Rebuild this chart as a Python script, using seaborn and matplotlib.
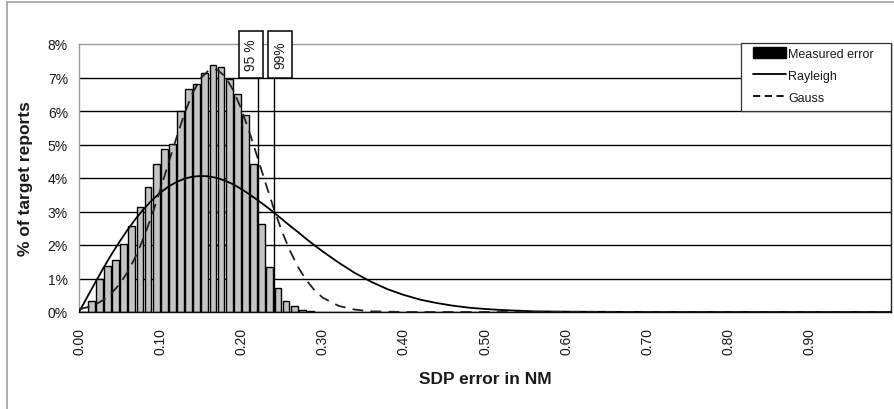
import numpy as np
import pandas as pd
import seaborn as sns
import matplotlib.pyplot as plt
from matplotlib.patches import Patch, Rectangle
from matplotlib.lines import Line2D

# Measured SDP error histogram: bins of 0.01 NM starting at bin_left, share in %
bin_left = [0.00, 0.01, 0.02, 0.03, 0.04, 0.05, 0.06, 0.07, 0.08, 0.09,
            0.10, 0.11, 0.12, 0.13, 0.14, 0.15, 0.16, 0.17, 0.18, 0.19,
            0.20, 0.21, 0.22, 0.23, 0.24, 0.25, 0.26, 0.27, 0.28]
measured = [0.00, 0.34, 1.00, 1.36, 1.55, 2.03, 2.58, 3.13, 3.72, 4.42,
            4.87, 5.01, 6.01, 6.66, 6.80, 7.12, 7.37, 7.30, 6.97, 6.50,
            5.88, 4.42, 2.63, 1.35, 0.73, 0.33, 0.18, 0.06, 0.03]

# Fitted distributions (% of target reports per 0.01 NM)
curve_x = [0.00, 0.01, 0.02, 0.03, 0.04, 0.05, 0.06, 0.07, 0.08, 0.09,
           0.10, 0.11, 0.12, 0.13, 0.14, 0.15, 0.16, 0.17, 0.18, 0.19,
           0.20, 0.21, 0.22, 0.23, 0.24, 0.25, 0.26, 0.27, 0.28, 0.29,
           0.30, 0.32, 0.34, 0.36, 0.38, 0.40, 0.42, 0.44, 0.46, 0.48,
           0.50, 0.52, 0.54, 0.56, 0.58, 0.60, 0.70, 0.80, 0.90, 1.00]
rayleigh = [0.00, 0.44, 0.88, 1.31, 1.72, 2.10, 2.46, 2.79, 3.08, 3.34,
            3.56, 3.74, 3.88, 3.98, 4.04, 4.06, 4.05, 4.00, 3.92, 3.81,
            3.67, 3.51, 3.34, 3.16, 2.97, 2.77, 2.57, 2.38, 2.18, 1.99,
            1.81, 1.47, 1.16, 0.90, 0.68, 0.51, 0.37, 0.27, 0.19, 0.13,
            0.09, 0.06, 0.04, 0.02, 0.015, 0.01, 0.00, 0.00, 0.00, 0.00]
gauss = [0.08, 0.14, 0.22, 0.36, 0.56, 0.83, 1.20, 1.66, 2.24, 2.90,
         3.64, 4.43, 5.20, 5.93, 6.54, 6.98, 7.22, 7.24, 7.03, 6.62,
         6.05, 5.36, 4.60, 3.83, 3.08, 2.40, 1.82, 1.33, 0.95, 0.65,
         0.43, 0.18, 0.07, 0.02, 0.01, 0.00, 0.00, 0.00, 0.00, 0.00,
         0.00, 0.00, 0.00, 0.00, 0.00, 0.00, 0.00, 0.00, 0.00, 0.00]

# Percentile markers
pct_labels = ["95 %", "99%"]
pct_values = [0.22, 0.24]

# Axis ticks
x_ticks = [0.00, 0.05, 0.10, 0.15, 0.20, 0.25, 0.30, 0.35, 0.40, 0.45,
           0.50, 0.55, 0.60, 0.65, 0.70, 0.75, 0.80, 0.85, 0.90, 0.95]
x_ticklabels = ["0.00", "", "0.10", "", "0.20", "", "0.30", "", "0.40", "",
                "0.50", "", "0.60", "", "0.70", "", "0.80", "", "0.90", ""]
y_ticks = [0, 1, 2, 3, 4, 5, 6, 7, 8]
y_ticklabels = ["0%", "1%", "2%", "3%", "4%", "5%", "6%", "7%", "8%"]

sns.set_theme(style="white")
plt.rcParams["font.family"] = ["Liberation Sans", "DejaVu Sans"]
text_color = "#1a1a1a"

W, H = 894, 410
fig = plt.figure(figsize=(W / 100, H / 100), dpi=100)
ax = fig.add_axes([79 / W, 1 - 313 / H, 812 / W, 268 / H])

hist_df = pd.DataFrame({"x": np.array(bin_left) + 0.005, "w": measured})
sns.histplot(data=hist_df, x="x", weights="w", binwidth=0.01,
             binrange=(0.0, 0.29), shrink=0.83,
             color="#c4c4c4", edgecolor="black", linewidth=1.0, alpha=1.0,
             ax=ax, zorder=2)

curves = pd.DataFrame({"x": curve_x, "Rayleigh": rayleigh, "Gauss": gauss})
sns.lineplot(data=curves, x="x", y="Rayleigh", color="black", lw=1.3,
             ax=ax, zorder=3)
sns.lineplot(data=curves, x="x", y="Gauss", color="#202020", lw=1.3,
             linestyle=(0, (6, 4)), ax=ax, zorder=3)

ax.set_xlim(0, 1.0)
ax.set_ylim(0, 8)
ax.set_xticks(x_ticks)
ax.set_xticklabels(x_ticklabels, rotation=90, fontsize=10, color=text_color)
ax.set_yticks(y_ticks)
ax.set_yticklabels(y_ticklabels, fontsize=10, color=text_color)
ax.tick_params(axis="x", direction="out", length=4, width=1, color="black", pad=7)
ax.tick_params(axis="y", direction="out", length=5, width=1, color="#333333", pad=3)

ax.set_axisbelow(True)
ax.yaxis.grid(True, color="black", lw=1.0)
ax.xaxis.grid(False)
ax.get_ygridlines()[-1].set_visible(False)

for side, col in [("left", "#9a9a9a"), ("top", "#9a9a9a"),
                  ("right", "#222222"), ("bottom", "#111111")]:
    ax.spines[side].set_visible(True)
    ax.spines[side].set_color(col)
    ax.spines[side].set_linewidth(1.0)

ax.set_xlabel("SDP error in NM", fontsize=12.5, fontweight="bold", color=text_color)
ax.set_ylabel("% of target reports", fontsize=12.5, fontweight="bold", color=text_color)
ax.xaxis.set_label_coords(0.5, -0.22)
ax.xaxis.label.set_va("top")
ax.yaxis.set_label_coords(-0.057, 0.5)

# Percentile boxes and their reference lines
box_offsets = [-0.0085, 0.0075]
box_w, box_bottom, box_top = 0.029, 7.0, 8.4
for lab, val, off in zip(pct_labels, pct_values, box_offsets):
    ax.plot([val, val], [0, box_bottom], color="black", lw=1.0, zorder=4)
    cx = val + off
    ax.add_patch(Rectangle((cx - box_w / 2, box_bottom), box_w, box_top - box_bottom,
                           facecolor="white", edgecolor="black", lw=1.1,
                           clip_on=False, zorder=5))
    ax.text(cx, (box_bottom + box_top) / 2, lab, rotation=90, ha="center",
            va="center", fontsize=10, color=text_color, clip_on=False, zorder=6)

# Legend with its own frame box
frame_px = (741, 44, 891, 112)
ax.add_patch(Rectangle(((frame_px[0] - 79) / 812, (313 - frame_px[3]) / 268),
                       (frame_px[2] - frame_px[0]) / 812,
                       (frame_px[3] - frame_px[1]) / 268,
                       transform=ax.transAxes, facecolor="white",
                       edgecolor="#333333", lw=0.9, clip_on=False, zorder=7))
handles = [Patch(facecolor="black", edgecolor="black"),
           Line2D([], [], color="black", lw=1.3),
           Line2D([], [], color="black", lw=1.3, linestyle=(0, (4, 2.5)))]
leg = ax.legend(handles, ["Measured error", "Rayleigh", "Gauss"],
                loc="upper left", bbox_to_anchor=((753 - 79) / 812, (313 - 48) / 268),
                borderaxespad=0, frameon=False, fontsize=9,
                handlelength=2.6, handleheight=1.0, handletextpad=0.2,
                labelspacing=0.72, borderpad=0.0)
leg.set_zorder(8)
for t in leg.get_texts():
    t.set_color(text_color)

# Outer chart border (left and top edges)
fig.add_artist(Line2D([7 / W, 7 / W], [0, 1 - 3 / H], transform=fig.transFigure,
                      color="#a0a0a0", lw=1.2))
fig.add_artist(Line2D([7 / W, 1], [1 - 3 / H, 1 - 3 / H], transform=fig.transFigure,
                      color="#a0a0a0", lw=1.2))

fig.savefig("out.png", dpi=100)
